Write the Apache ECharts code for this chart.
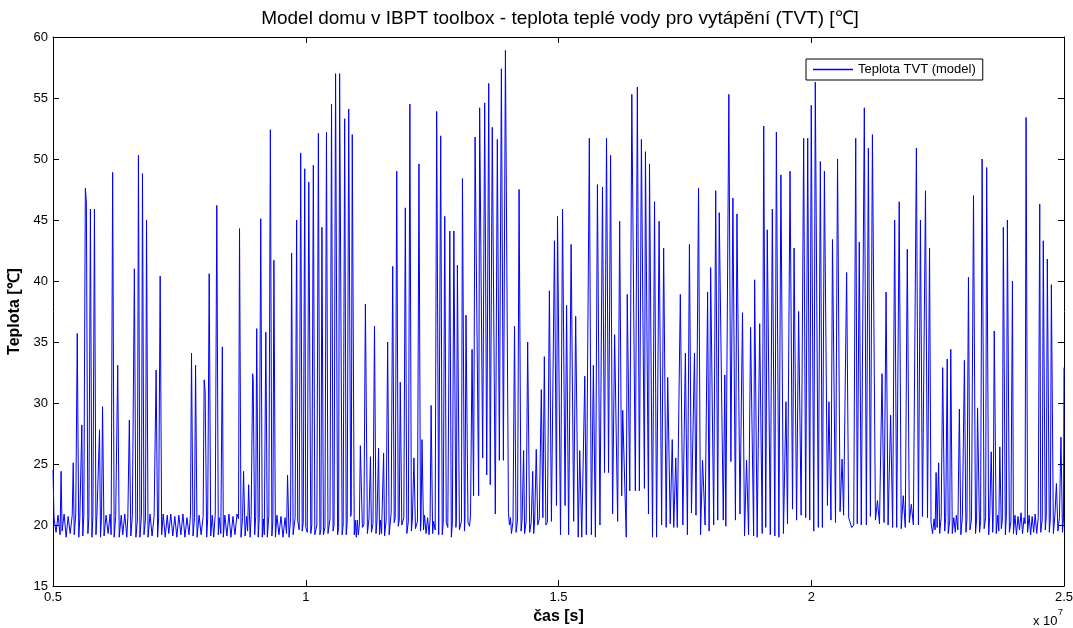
<!DOCTYPE html>
<html>
<head>
<meta charset="utf-8">
<title>Model domu v IBPT toolbox - TVT</title>
<script src="https://cdn.jsdelivr.net/npm/echarts@6.0.0/dist/echarts.min.js"></script>
<style>
  html, body { margin: 0; padding: 0; background: #fff; }
  #chart { width: 1073px; height: 628px; }
</style>
</head>
<body>
<div id="chart"></div>
<script>
// cas [x 10^7 s], teplota TVT [degC] - useky grafu zleva doprava
var usekA = [[0.500,24.5],[0.502,20.6],[0.506,19.4],[0.510,20.8],[0.514,19.2],[0.516,24.4],[0.518,19.5],[0.522,20.9],[0.526,19.0],[0.530,20.7],[0.534,19.3],[0.538,20.8],[0.540,25.1],[0.542,19.2],[0.545,20.9],[0.548,35.7],[0.551,19.0],[0.553,20.5],[0.557,28.2],[0.559,19.1],[0.561,20.8],[0.564,47.6],[0.566,46.5],[0.569,19.3],[0.571,20.6],[0.574,45.9],[0.577,19.0],[0.579,20.8],[0.582,45.9],[0.585,19.2],[0.587,20.9],[0.592,27.8],[0.594,19.0],[0.596,20.7],[0.598,29.7],[0.601,19.1],[0.605,20.8],[0.609,19.3],[0.613,20.9],[0.615,19.2],[0.618,48.9],[0.621,19.0],[0.624,20.7],[0.628,33.1],[0.631,19.0],[0.635,20.8],[0.638,19.2],[0.642,20.9],[0.646,19.0],[0.648,20.6],[0.651,28.6],[0.654,19.1],[0.657,20.8],[0.661,41.0],[0.664,19.0],[0.667,20.4],[0.669,50.3],[0.672,19.0],[0.675,20.8],[0.677,48.8],[0.680,19.2],[0.683,20.5],[0.685,45.0],[0.688,19.0],[0.692,20.9],[0.696,19.1],[0.700,20.7],[0.704,32.7],[0.707,19.0],[0.709,20.6],[0.712,40.4],[0.715,19.2],[0.718,20.9],[0.722,19.0],[0.726,20.8],[0.729,19.3],[0.733,20.9],[0.737,19.1],[0.741,20.7],[0.745,19.0],[0.749,20.8],[0.753,19.2],[0.757,20.9],[0.761,19.0],[0.765,20.6],[0.769,19.2],[0.772,20.8]];
var usekB = [[0.774,34.1],[0.777,19.1],[0.780,20.6],[0.782,33.1],[0.785,19.0],[0.789,20.8],[0.793,19.2],[0.797,20.7],[0.799,31.9],[0.801,31.0],[0.804,19.0],[0.806,20.5],[0.809,40.6],[0.812,19.1],[0.815,20.8],[0.818,19.0],[0.821,20.9],[0.824,46.2],[0.827,19.2],[0.829,20.6],[0.832,19.3],[0.835,34.6],[0.837,19.0],[0.840,20.8],[0.844,19.1],[0.848,20.9],[0.852,19.0],[0.856,20.7],[0.860,19.2],[0.864,20.9],[0.867,20.5],[0.869,44.3],[0.872,19.0],[0.875,20.6],[0.877,24.4],[0.880,19.1],[0.883,20.7],[0.885,19.5],[0.887,23.3],[0.890,19.0],[0.892,20.8],[0.895,32.4],[0.896,31.9],[0.899,19.2],[0.901,20.7],[0.903,36.1],[0.906,19.0],[0.908,20.6],[0.911,45.1],[0.914,19.0],[0.916,20.5],[0.918,19.2],[0.921,35.8],[0.924,19.0],[0.927,20.8],[0.930,52.4],[0.933,19.1],[0.935,20.3],[0.937,41.7],[0.940,19.0],[0.943,20.8],[0.947,19.2],[0.951,20.7],[0.955,19.0],[0.959,20.6],[0.962,19.3],[0.964,24.1],[0.967,19.0],[0.970,20.5],[0.972,42.3],[0.975,19.2],[0.979,20.6],[0.982,45.0],[0.984,20.4],[0.987,19.6],[0.990,50.5],[0.993,19.5],[0.995,20.2],[0.998,49.2]];
var usekC = [[1.000,19.8],[1.003,19.4],[1.006,48.1],[1.010,19.3],[1.012,20.0],[1.015,49.5],[1.018,19.2],[1.022,20.0],[1.025,52.1],[1.028,19.2],[1.030,19.6],[1.032,44.4],[1.035,19.2],[1.038,19.8],[1.041,52.2],[1.044,19.3],[1.048,20.5],[1.051,54.5],[1.054,19.5],[1.056,20.0],[1.059,57.0],[1.063,19.2],[1.065,19.8],[1.067,57.0],[1.072,19.2],[1.074,20.0],[1.077,53.3],[1.080,19.2],[1.082,20.2],[1.085,54.1],[1.089,20.7],[1.090,21.0],[1.092,52.0],[1.096,19.2],[1.098,20.4],[1.100,19.0],[1.102,20.4],[1.104,19.2],[1.106,20.0],[1.108,26.5],[1.112,19.8],[1.115,20.0],[1.118,38.1],[1.122,19.3],[1.125,20.5],[1.128,25.6],[1.130,19.4],[1.133,20.1],[1.136,36.3],[1.139,19.3],[1.141,20.4],[1.144,26.3],[1.146,19.2],[1.148,20.4],[1.150,19.3],[1.154,25.9],[1.156,19.1],[1.159,20.4],[1.162,35.0],[1.165,19.2],[1.169,21.0],[1.172,41.2],[1.175,20.2],[1.177,20.6],[1.180,49.0],[1.183,19.9],[1.185,20.4],[1.187,31.7],[1.190,20.0],[1.194,20.6],[1.197,46.0],[1.200,19.3],[1.203,20.3],[1.206,54.5],[1.209,19.5],[1.211,20.5],[1.214,25.5],[1.217,19.7],[1.221,20.3],[1.224,49.6],[1.227,19.5],[1.228,20.2],[1.230,27.0],[1.233,19.6],[1.235,20.8],[1.238,19.3],[1.241,20.6],[1.244,19.2],[1.246,20.5],[1.248,29.8],[1.251,19.3],[1.253,20.3],[1.256,19.6],[1.259,53.9],[1.263,19.2],[1.267,51.9],[1.270,19.2],[1.272,20.2]];
var usekD = [[1.275,45.3],[1.278,20.2],[1.281,19.8],[1.285,44.1],[1.288,19.0],[1.290,20.1],[1.293,44.1],[1.297,19.8],[1.298,20.4],[1.300,41.3],[1.304,19.6],[1.308,20.3],[1.310,48.4],[1.314,19.5],[1.315,20.5],[1.317,37.2],[1.321,20.2],[1.324,19.9],[1.326,20.8],[1.329,34.4],[1.332,22.4],[1.335,51.8],[1.342,22.4],[1.344,54.2],[1.350,25.5],[1.354,54.6],[1.358,24.1],[1.362,56.2],[1.365,23.3],[1.369,52.6],[1.375,20.9],[1.379,51.6],[1.383,25.3],[1.387,57.4],[1.391,25.3],[1.395,58.9],[1.401,21.0],[1.403,20.0],[1.405,20.6],[1.407,19.3],[1.410,20.3],[1.413,36.3],[1.416,19.4],[1.419,20.4],[1.422,47.5],[1.426,19.5],[1.428,20.4],[1.431,26.1],[1.433,19.3],[1.436,20.3],[1.439,35.0],[1.443,19.4],[1.446,20.2],[1.449,24.4],[1.451,19.3],[1.453,20.5],[1.456,26.2],[1.459,20.0],[1.462,20.5],[1.466,31.1],[1.469,20.6],[1.472,33.8],[1.475,20.0],[1.478,20.2],[1.482,39.2]];
var usekE = [[1.486,20.3],[1.492,43.3],[1.496,21.6],[1.498,45.3],[1.504,19.2],[1.508,45.9],[1.513,21.6],[1.516,38.0],[1.520,19.2],[1.525,43.0],[1.530,20.3],[1.534,37.1],[1.539,19.0],[1.542,26.1],[1.546,19.0],[1.552,32.2],[1.555,19.2],[1.561,51.7],[1.565,19.2],[1.569,33.1],[1.573,19.0],[1.577,47.9],[1.582,20.0],[1.587,47.7],[1.591,24.3],[1.595,51.7],[1.599,24.3],[1.603,50.3],[1.607,20.9],[1.611,35.6],[1.617,20.3],[1.621,44.9],[1.625,22.4],[1.627,29.4],[1.634,19.0],[1.636,38.9],[1.641,22.8],[1.645,55.3],[1.652,22.8],[1.656,55.9],[1.660,22.8],[1.664,51.6],[1.670,23.0],[1.672,50.6],[1.678,20.9],[1.680,49.6],[1.686,19.0],[1.690,46.5],[1.694,19.0],[1.699,44.9],[1.704,20.0],[1.708,42.7],[1.713,19.8],[1.716,32.1],[1.721,20.1],[1.725,27.0],[1.728,19.8],[1.732,25.5],[1.735,19.8]];
var usekF = [[1.741,38.9],[1.746,20.0],[1.751,34.1],[1.755,19.2],[1.759,43.0],[1.763,21.0],[1.769,34.1],[1.772,20.8],[1.777,47.6],[1.781,19.2],[1.785,25.3],[1.790,20.0],[1.795,39.1],[1.798,19.5],[1.801,41.1],[1.807,20.0],[1.811,47.4],[1.815,20.4],[1.818,45.6],[1.826,20.4],[1.829,32.3],[1.831,19.9],[1.837,55.3],[1.841,25.2],[1.845,46.8],[1.850,20.4],[1.853,45.5],[1.859,20.9],[1.864,37.4],[1.868,19.1],[1.872,25.3],[1.876,19.2],[1.880,36.2],[1.886,19.1],[1.888,40.1],[1.893,19.0],[1.898,36.5],[1.903,19.3],[1.906,52.7],[1.910,19.8],[1.913,44.2],[1.919,19.2],[1.923,45.9],[1.928,19.1],[1.931,52.2],[1.936,19.0],[1.940,48.7],[1.945,19.3],[1.950,30.1],[1.953,20.1],[1.958,49.0],[1.963,21.3],[1.966,42.7],[1.971,20.4],[1.975,37.5],[1.980,20.8],[1.985,51.7]];
var usekG = [[1.989,20.6],[1.993,51.7],[1.997,20.4],[2.000,54.4],[2.005,19.5],[2.008,56.3],[2.014,19.8],[2.018,49.8],[2.022,19.8],[2.026,49.0],[2.032,21.6],[2.035,30.1],[2.039,20.4],[2.042,43.4],[2.048,20.2],[2.052,50.0],[2.057,21.1],[2.061,25.4],[2.064,20.8],[2.070,40.7],[2.074,20.6],[2.077,20.2],[2.080,19.8],[2.084,20.0],[2.088,51.7],[2.091,20.1],[2.095,43.2],[2.099,20.0],[2.105,54.2],[2.109,20.0],[2.113,50.9],[2.117,20.7],[2.121,52.0],[2.127,20.4],[2.131,22.0],[2.135,20.1],[2.140,32.4],[2.144,20.2],[2.148,39.1],[2.152,20.0],[2.157,29.0],[2.161,19.8],[2.165,45.0],[2.169,19.8],[2.174,46.5],[2.178,19.7],[2.182,22.4],[2.186,19.8],[2.190,42.6],[2.194,20.2],[2.198,21.7],[2.202,20.0],[2.208,50.9],[2.212,20.0],[2.216,45.0],[2.220,20.7],[2.226,47.4],[2.230,20.6],[2.234,42.7]];
var usekH = [[2.237,20.2],[2.240,19.3],[2.243,20.5],[2.245,19.6],[2.247,24.3],[2.249,19.8],[2.252,25.1],[2.254,19.3],[2.257,20.6],[2.260,32.9],[2.264,19.5],[2.266,20.6],[2.269,33.6],[2.271,19.3],[2.274,20.4],[2.276,34.4],[2.279,19.3],[2.282,20.6],[2.285,19.4],[2.287,20.8],[2.290,19.6],[2.293,29.5],[2.296,19.2],[2.299,20.7],[2.303,33.5],[2.306,19.4],[2.308,20.5],[2.311,40.3],[2.314,19.6],[2.317,20.5],[2.321,47.0],[2.325,19.3],[2.327,20.4],[2.329,29.6],[2.333,19.4],[2.335,20.3],[2.338,50.0],[2.342,19.7],[2.345,20.6],[2.347,49.3],[2.351,19.2],[2.353,20.7],[2.356,26.0],[2.359,19.4],[2.360,20.6],[2.362,35.9],[2.366,19.3],[2.369,20.8],[2.371,19.5],[2.373,26.4],[2.376,19.7],[2.378,20.4],[2.380,44.4],[2.384,19.2],[2.386,20.7],[2.388,45.0],[2.392,19.4],[2.395,20.3],[2.398,40.0],[2.400,19.3],[2.403,20.8],[2.406,19.2],[2.409,20.7],[2.412,19.6],[2.415,21.0],[2.418,19.3],[2.421,20.6],[2.423,20.1],[2.425,53.4],[2.428,19.4],[2.431,20.8],[2.434,19.2],[2.437,20.7],[2.440,19.4],[2.443,20.9],[2.446,19.3],[2.449,20.6],[2.452,46.3],[2.454,19.4],[2.457,20.5],[2.459,43.3],[2.463,19.6],[2.465,20.7],[2.467,41.8],[2.471,19.4],[2.473,20.5],[2.475,39.7],[2.479,19.3],[2.482,20.8],[2.485,23.4],[2.488,19.5],[2.491,20.6],[2.494,27.2],[2.497,19.4],[2.499,20.5],[2.500,32.9]];

var xTicks = [0.5, 1, 1.5, 2, 2.5];
var yTicks = [15, 20, 25, 30, 35, 40, 45, 50, 55, 60];

var teplotaTVT = [].concat(usekA, usekB, usekC, usekD, usekE, usekF, usekG, usekH);

var font = "'Liberation Sans', Arial, Helvetica, sans-serif";
var chart = echarts.init(document.getElementById('chart'), null, { renderer: 'canvas' });

function osa(extra) {
  var base = {
    type: 'value',
    axisLine: { show: true, lineStyle: { color: '#000', width: 1 } },
    axisTick: { show: true, inside: true, length: 6, lineStyle: { color: '#000' } },
    splitLine: { show: false },
    axisLabel: { color: '#000', fontSize: 13, fontFamily: font }
  };
  for (var k in extra) base[k] = extra[k];
  return base;
}

var option = {
  animation: false,
  backgroundColor: '#fff',
  textStyle: { fontFamily: font },
  grid: { left: 53, right: 9, top: 37, bottom: 42, containLabel: false, outerBoundsMode: 'none' },
  legend: {
    left: 806,
    top: 59,
    padding: [4, 7, 4, 7],
    backgroundColor: '#fff',
    borderColor: '#000',
    borderWidth: 1,
    borderRadius: 0,
    icon: 'rect',
    itemWidth: 40,
    itemHeight: 1.5,
    itemGap: 5,
    itemStyle: { color: '#0000ff', borderWidth: 0 },
    textStyle: { color: '#000', fontSize: 13, fontFamily: font, padding: [1, 0, 0, 0] },
    data: ['Teplota TVT (model)']
  },
  xAxis: [
    osa({
      position: 'bottom',
      min: xTicks[0], max: xTicks[xTicks.length - 1], interval: 0.5,
      axisLabel: { color: '#000', fontSize: 13, fontFamily: font, margin: 5, showMinLabel: true, showMaxLabel: true },
      name: 'čas [s]',
      nameLocation: 'middle',
      nameGap: 21,
      nameTextStyle: { color: '#000', fontSize: 16, fontWeight: 'bold', fontFamily: font }
    }),
    osa({
      position: 'top',
      min: xTicks[0], max: xTicks[xTicks.length - 1], interval: 0.5,
      axisLabel: { show: false }
    })
  ],
  yAxis: [
    osa({
      position: 'left',
      min: yTicks[0], max: yTicks[yTicks.length - 1], interval: 5,
      axisLabel: { color: '#000', fontSize: 13, fontFamily: font, margin: 5 },
      name: 'Teplota [℃]',
      nameLocation: 'middle',
      nameGap: 27,
      nameRotate: 90,
      nameTextStyle: { color: '#000', fontSize: 16, fontWeight: 'bold', fontFamily: font }
    }),
    osa({
      position: 'right',
      min: yTicks[0], max: yTicks[yTicks.length - 1], interval: 5,
      axisLabel: { show: false }
    })
  ],
  graphic: [
    {
      type: 'text', x: 560, y: 9,
      style: { text: 'Model domu v IBPT toolbox - teplota teplé vody pro vytápění (TVT) [℃]', font: '19px ' + font, fill: '#000', align: 'center', verticalAlign: 'top' }
    },
    {
      type: 'text', x: 1033, y: 615,
      style: { text: 'x 10', font: '13px ' + font, fill: '#000', verticalAlign: 'top' }
    },
    {
      type: 'text', x: 1058, y: 608,
      style: { text: '7', font: '9px ' + font, fill: '#000', verticalAlign: 'top' }
    }
  ],
  series: [
    {
      name: 'Teplota TVT (model)',
      type: 'line',
      xAxisIndex: 0,
      yAxisIndex: 0,
      data: teplotaTVT,
      symbol: 'none',
      showSymbol: false,
      sampling: null,
      color: '#0000ff',
      lineStyle: { color: '#0000ff', width: 1 },
      itemStyle: { color: '#0000ff' },
      emphasis: { disabled: true }
    }
  ]
};

chart.setOption(option);
</script>
</body>
</html>
